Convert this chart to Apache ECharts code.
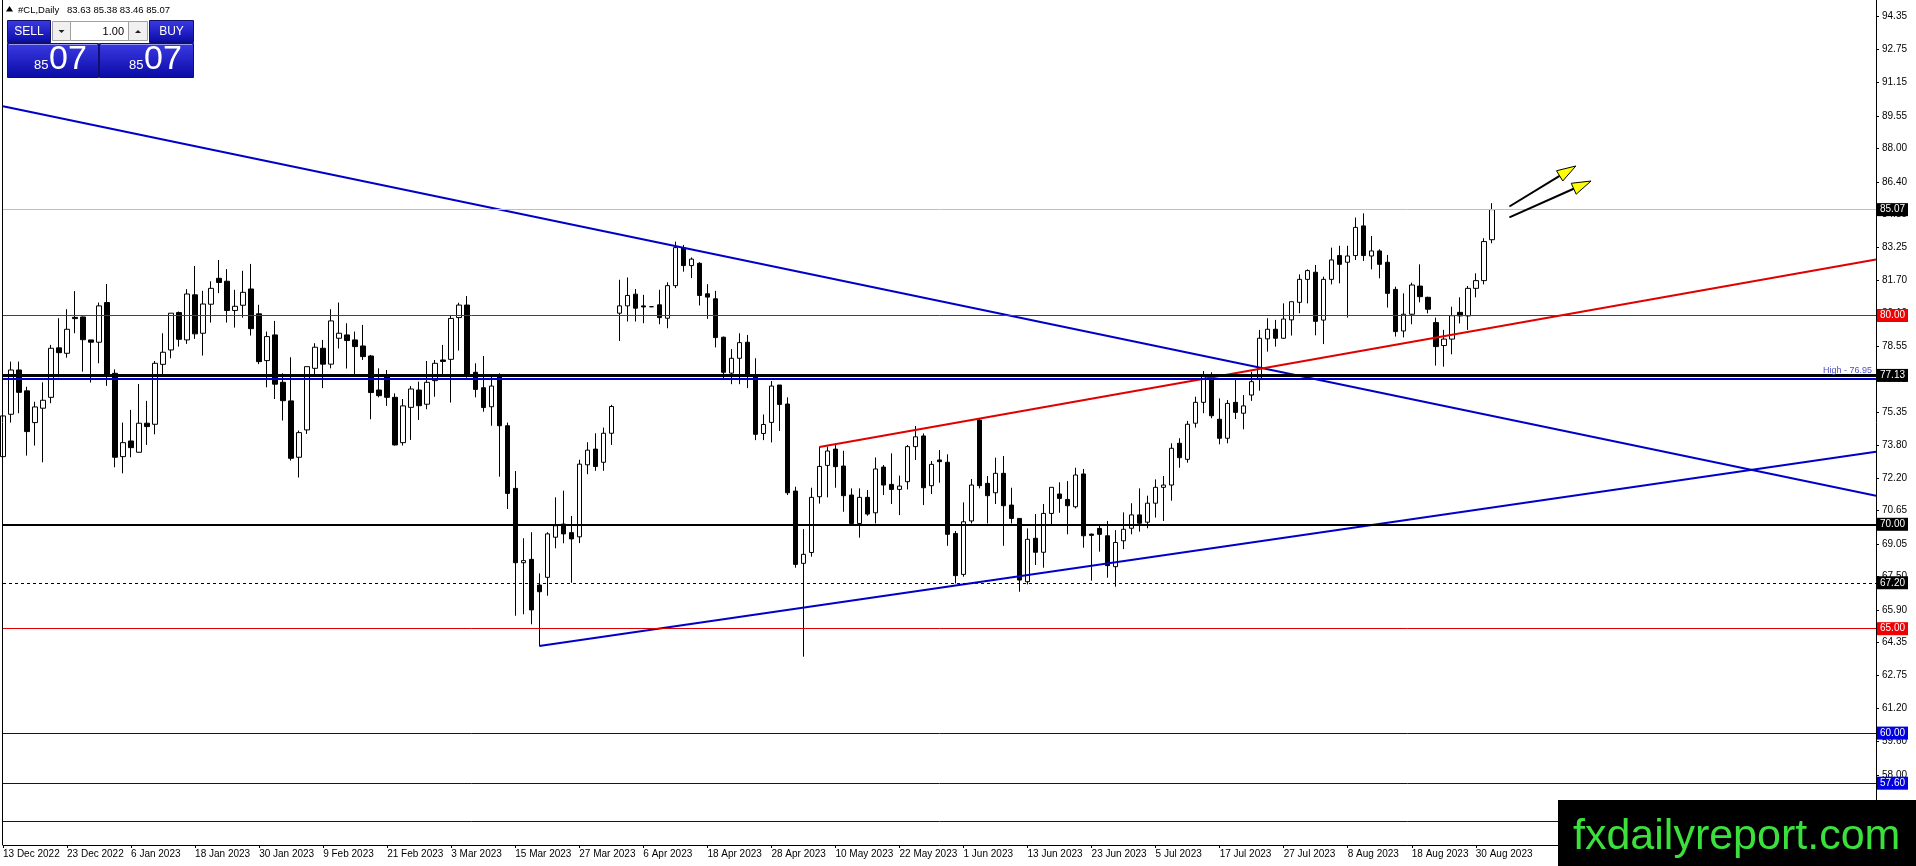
<!DOCTYPE html>
<html>
<head>
<meta charset="utf-8">
<title>#CL,Daily</title>
<script src="https://cdn.jsdelivr.net/npm/echarts@6/dist/echarts.min.js"></script>
<style>
  html, body { margin: 0; padding: 0; background: #fff; }
  #chart { width: 1916px; height: 866px; }
</style>
</head>
<body>
<div id="chart"></div>
<script>
// #CL daily bars, 13 Dec 2022 .. 1 Sep 2023
const opens = [
  73.24, 75.27, 77.39, 76.39, 74.87, 75.56, 76.08, 78.45, 78.19, 79.91,
  79.93, 78.83, 78.72, 80.62, 77.23, 73.24, 73.99, 73.45, 74.84, 74.79,
  77.66, 78.35, 80.14, 78.83, 80.99, 79.15, 80.54, 81.78, 81.64, 80.24,
  80.49, 81.27, 80.08, 77.84, 79.07, 76.80, 75.91, 73.21, 74.52, 77.47,
  78.43, 77.67, 78.91, 79.07, 78.83, 78.54, 78.06, 76.43, 77.12, 76.08,
  73.91, 75.60, 76.43, 75.75, 76.88, 77.87, 77.90, 79.90, 80.50, 77.28,
  76.54, 75.63, 77.15, 74.72, 71.72, 68.16, 68.32, 67.09, 67.46, 69.38,
  70.01, 69.60, 69.40, 72.85, 73.60, 72.97, 74.36, 80.11, 80.46, 81.02,
  80.46, 80.42, 80.51, 79.87, 81.43, 83.25, 82.39, 82.50, 81.04, 80.80,
  78.96, 77.24, 77.95, 78.72, 77.07, 74.35, 74.88, 76.67, 75.76, 71.59,
  68.13, 68.65, 71.32, 72.82, 73.60, 72.79, 71.40, 70.04, 71.29, 70.55,
  72.74, 71.91, 71.67, 72.04, 73.72, 74.23, 71.85, 73.08, 72.97, 69.56,
  67.60, 70.16, 74.99, 71.96, 71.51, 72.44, 70.92, 70.28, 67.25, 69.33,
  68.66, 70.52, 71.45, 71.19, 70.84, 72.41, 69.53, 69.80, 69.45, 67.97,
  69.21, 69.81, 70.45, 70.10, 71.01, 71.77, 71.88, 73.88, 73.11, 74.84,
  75.84, 77.07, 75.03, 74.12, 75.84, 75.32, 76.19, 76.99, 78.88, 79.34,
  78.91, 79.79, 80.63, 81.73, 82.07, 79.78, 81.73, 82.87, 82.55, 82.87,
  84.29, 82.85, 83.09, 82.55, 81.25, 79.26, 80.06, 81.41, 80.87, 79.66,
  78.56, 78.87, 80.15, 79.98, 81.30, 81.67, 83.63
];
const highs = [
  76.35, 77.79, 77.79, 76.59, 75.87, 76.80, 78.59, 79.87, 80.30, 81.17,
  79.95, 78.83, 80.62, 81.51, 77.42, 74.87, 75.48, 76.72, 75.91, 77.82,
  79.15, 80.11, 80.19, 81.26, 82.37, 81.18, 81.64, 82.66, 82.22, 81.23,
  82.14, 82.47, 80.51, 79.23, 79.74, 77.23, 78.00, 74.49, 77.55, 78.67,
  78.83, 80.30, 80.62, 79.63, 79.23, 79.55, 78.11, 77.47, 77.39, 76.27,
  76.00, 76.62, 76.83, 77.82, 77.87, 78.59, 80.02, 80.61, 80.93, 77.71,
  78.06, 77.07, 77.23, 74.87, 72.55, 69.33, 69.62, 67.65, 69.62, 71.29,
  71.61, 70.40, 73.09, 73.93, 74.36, 74.63, 75.72, 81.71, 81.82, 81.27,
  80.99, 80.42, 81.23, 81.59, 83.54, 83.38, 82.78, 82.55, 81.50, 81.18,
  78.99, 78.39, 79.15, 79.07, 77.95, 75.26, 76.86, 76.67, 76.08, 71.80,
  69.77, 71.75, 73.72, 73.72, 73.80, 73.52, 71.72, 71.72, 71.64, 73.20,
  72.84, 73.40, 72.33, 73.80, 74.71, 74.35, 73.03, 73.56, 73.35, 69.68,
  71.05, 72.17, 75.04, 72.31, 73.19, 73.27, 71.75, 70.28, 69.80, 70.49,
  70.97, 71.77, 72.01, 72.07, 72.71, 72.65, 69.55, 69.96, 70.16, 69.72,
  70.57, 71.01, 71.72, 71.37, 72.15, 72.31, 73.88, 74.12, 74.95, 76.11,
  77.34, 77.28, 76.03, 75.95, 76.91, 76.19, 77.31, 79.31, 79.87, 79.79,
  80.58, 80.66, 81.97, 82.21, 82.42, 81.86, 83.25, 83.34, 83.34, 84.69,
  84.89, 83.81, 83.17, 82.90, 81.38, 81.06, 81.57, 82.45, 80.90, 79.90,
  79.31, 80.42, 80.87, 81.41, 82.02, 83.70, 85.38
];
const lows = [
  73.20, 74.87, 75.32, 73.29, 73.77, 72.97, 75.80, 77.04, 77.98, 79.15,
  77.31, 76.79, 77.71, 76.63, 72.73, 72.44, 73.21, 73.43, 73.80, 74.31,
  77.07, 77.95, 78.51, 78.64, 78.88, 78.08, 79.66, 81.07, 79.66, 79.42,
  79.90, 79.04, 77.67, 76.56, 76.00, 74.97, 73.05, 72.24, 74.33, 77.07,
  76.52, 77.47, 78.42, 77.46, 77.15, 77.87, 75.03, 76.08, 75.67, 73.77,
  73.77, 74.04, 75.00, 75.51, 76.11, 77.20, 75.83, 78.32, 77.02, 76.08,
  75.39, 74.72, 72.28, 70.73, 65.62, 65.69, 65.21, 64.17, 66.58, 68.85,
  69.09, 67.20, 69.10, 72.40, 72.56, 72.56, 73.80, 78.78, 79.71, 79.71,
  79.63, 80.42, 79.58, 79.39, 81.31, 82.10, 81.79, 80.48, 79.84, 78.47,
  76.95, 76.71, 76.71, 76.52, 74.03, 74.03, 73.92, 74.47, 71.40, 67.92,
  63.66, 68.45, 70.99, 71.29, 71.75, 70.60, 69.92, 69.36, 70.41, 70.04,
  71.40, 70.97, 70.44, 71.67, 73.08, 70.92, 71.45, 71.99, 68.97, 67.17,
  67.49, 70.04, 71.72, 70.04, 70.97, 68.97, 70.04, 66.77, 67.12, 68.05,
  67.92, 69.93, 70.55, 69.52, 70.76, 68.88, 67.30, 68.69, 67.44, 67.01,
  68.81, 69.52, 69.65, 69.81, 70.32, 70.16, 71.13, 72.71, 72.95, 74.63,
  75.32, 75.08, 73.83, 73.88, 75.04, 74.55, 75.91, 76.40, 78.27, 78.51,
  78.88, 79.04, 80.11, 80.58, 79.05, 78.63, 81.49, 81.54, 79.90, 82.66,
  82.61, 82.21, 81.78, 80.38, 78.99, 78.95, 79.58, 80.63, 80.10, 77.60,
  77.55, 78.14, 79.62, 79.31, 80.87, 81.49, 83.46
];
const closes = [
  75.19, 77.39, 76.32, 74.44, 75.62, 75.94, 78.43, 78.22, 79.34, 79.85,
  78.84, 78.72, 80.46, 77.15, 73.21, 73.91, 73.67, 74.84, 74.68, 77.71,
  78.24, 80.11, 78.86, 81.03, 79.12, 80.55, 81.30, 81.58, 80.24, 80.44,
  81.11, 79.37, 77.79, 78.99, 76.71, 75.92, 73.16, 74.39, 77.55, 78.48,
  77.67, 79.74, 79.15, 78.80, 78.51, 78.03, 76.31, 76.16, 76.08, 73.80,
  75.67, 76.48, 75.68, 76.80, 77.71, 77.80, 79.86, 80.50, 77.10, 76.46,
  75.59, 76.62, 74.72, 71.48, 68.16, 68.26, 65.90, 66.77, 69.54, 69.93,
  69.54, 69.30, 72.88, 73.55, 72.77, 74.36, 75.64, 80.46, 80.96, 80.35,
  80.41, 80.42, 79.90, 81.43, 83.25, 82.39, 82.70, 80.96, 80.88, 78.94,
  77.28, 77.95, 78.70, 77.19, 74.31, 74.78, 76.62, 75.74, 71.51, 68.08,
  68.56, 71.29, 72.77, 73.51, 72.76, 71.37, 70.04, 71.29, 70.49, 72.65,
  71.88, 71.67, 71.83, 73.72, 74.19, 71.75, 72.87, 73.00, 69.52, 67.54,
  70.12, 71.88, 71.85, 71.37, 72.44, 70.89, 70.28, 67.33, 69.28, 68.66,
  70.52, 71.77, 71.24, 70.89, 72.36, 69.45, 69.47, 69.52, 68.02, 69.13,
  69.76, 70.45, 70.05, 71.01, 71.77, 71.88, 73.64, 73.19, 74.79, 75.84,
  77.15, 75.20, 74.12, 75.79, 75.36, 75.67, 76.83, 78.91, 79.34, 78.91,
  79.83, 80.66, 81.73, 82.15, 79.72, 81.73, 82.66, 82.45, 82.85, 84.22,
  82.87, 83.09, 82.45, 81.06, 79.23, 80.06, 81.46, 80.90, 80.30, 78.51,
  78.87, 79.99, 79.98, 81.30, 81.67, 83.54, 85.07
];

// time axis: 235 bar slots (187 with data, rest is empty space to the right)
const slotCount = 235;
const labelStep = 8;
const dateLabels = [
  '13 Dec 2022', '23 Dec 2022', '6 Jan 2023', '18 Jan 2023', '30 Jan 2023',
  '9 Feb 2023', '21 Feb 2023', '3 Mar 2023', '15 Mar 2023', '27 Mar 2023',
  '6 Apr 2023', '18 Apr 2023', '28 Apr 2023', '10 May 2023', '22 May 2023',
  '1 Jun 2023', '13 Jun 2023', '23 Jun 2023', '5 Jul 2023', '17 Jul 2023',
  '27 Jul 2023', '8 Aug 2023', '18 Aug 2023', '30 Aug 2023'
];
const priceTicks = [
  94.35, 92.75, 91.15, 89.55, 88.00, 86.40, 84.85, 83.25, 81.70, 80.10,
  78.55, 76.95, 75.35, 73.80, 72.20, 70.65, 69.05, 67.50, 65.90, 64.35,
  62.75, 61.20, 59.60, 58.00, 56.45, 54.85
];

// horizontal levels
const bidPrice = 85.07;
const redLevels = [80.00, 65.00];
const blackLevels = [77.13, 70.00];
const dashedLevels = [67.20];
const blueBoxLevels = [60.00, 57.60];
const blueLevels = [55.80];
const highLevel = 76.95;

// trend lines: [bar index, price]
const downTrend = [[0, 90.02], [234, 71.37]];
const upTrend = [[67, 64.17], [234, 73.47]];
const redTrend = [[102, 73.70], [234, 82.68]];

// yellow arrows: [tail, tip] as [bar index, price]
const arrows = [
  [[188.2, 85.22], [196.5, 87.16]],
  [[188.2, 84.70], [198.4, 86.44]]
];

const FONT = '"Liberation Sans", Arial, sans-serif';
const BLUE = '#0000c8';
const RED = '#e00000';

const slots = [];
for (let i = 0; i < slotCount; i++) slots.push(String(i));

const candles = opens.map((o, i) => [o, closes[i], lows[i], highs[i]]);

function level(value, color, width, type, box) {
  return {
    yAxis: value,
    lineStyle: { color: color, width: width, type: type },
    label: box ? {
      show: true, position: 'end', distance: 1,
      formatter: value.toFixed(2),
      color: '#fff', backgroundColor: box,
      padding: [2, 3, 1, 3], fontSize: 10, fontFamily: FONT
    } : { show: false }
  };
}

const levelData = [level(bidPrice, '#c0c0c0', 1, 'solid', '#000')];
redLevels.forEach(v => levelData.push(level(v, RED, 1, 'solid', '#f00000')));
levelData.push(level(blackLevels[0], '#000', 3, 'solid', '#000'));
levelData.push(level(blackLevels[1], '#000', 2, 'solid', '#000'));
dashedLevels.forEach(v => levelData.push(level(v, '#000', 1, [3, 3], '#000')));
blueBoxLevels.forEach(v => levelData.push(level(v, BLUE, 1, 'solid', '#0000e0')));
blueLevels.forEach(v => levelData.push(level(v, BLUE, 1, 'solid', null)));
levelData.push({
  yAxis: highLevel,
  lineStyle: { color: BLUE, width: 2, type: 'solid' },
  label: {
    show: true, position: 'insideEndTop', distance: 4,
    formatter: 'High - ' + highLevel.toFixed(2),
    color: '#5050c8', fontSize: 9, fontFamily: FONT
  }
});

function showDate(index) {
  return index % labelStep === 0 && index / labelStep < dateLabels.length;
}

function trend(name, data, color) {
  return {
    name: name, type: 'line', data: data, z: 4,
    symbol: 'none', silent: true, animation: false,
    lineStyle: { color: color, width: 2 }
  };
}

const chart = echarts.init(document.getElementById('chart'), null, { renderer: 'canvas' });

chart.setOption({
  animation: false,
  backgroundColor: '#fff',
  grid: { left: 3, right: 40, top: 0, bottom: 21 },
  xAxis: {
    type: 'category', data: slots, boundaryGap: false,
    axisLine: { lineStyle: { color: '#000', width: 1 } },
    axisTick: { show: true, interval: showDate, length: 3, lineStyle: { color: '#000' } },
    axisLabel: {
      interval: showDate, align: 'left', margin: 4,
      formatter: (v, i) => dateLabels[i / labelStep],
      color: '#000', fontSize: 10, fontFamily: FONT
    },
    splitLine: { show: false }
  },
  yAxis: {
    type: 'value', position: 'right', min: 54.64, max: 95.11,
    axisLine: { show: true, lineStyle: { color: '#000', width: 1 } },
    axisTick: { show: true, length: 3, customValues: priceTicks, lineStyle: { color: '#000' } },
    axisLabel: {
      customValues: priceTicks, margin: 6,
      formatter: v => v.toFixed(2),
      color: '#000', fontSize: 10, fontFamily: FONT
    },
    splitLine: { show: false }
  },
  series: [
    {
      name: '#CL,Daily', type: 'candlestick', data: candles,
      barWidth: 5, clip: false, z: 2,
      itemStyle: {
        color: '#fff', color0: '#000',
        borderColor: '#000', borderColor0: '#000', borderColorDoji: '#000',
        borderWidth: 1
      },
      markLine: {
        silent: true, symbol: 'none', animation: false, z: 5,
        data: levelData
      }
    },
    trend('down trend', downTrend, BLUE),
    trend('up trend', upTrend, BLUE),
    trend('channel', redTrend, RED)
  ]
});

// pixel position of a (fractional) bar index and price
function toPixel(idx, price) {
  const a = chart.convertToPixel({ gridIndex: 0 }, [0, price]);
  const b = chart.convertToPixel({ gridIndex: 0 }, [1, price]);
  return [a[0] + idx * (b[0] - a[0]), a[1]];
}

const graphics = [];

// left frame line
graphics.push({
  type: 'line', z: 50, silent: true,
  shape: { x1: 2.5, y1: 0, x2: 2.5, y2: 845 },
  style: { stroke: '#000', lineWidth: 1 }
});

// arrows
arrows.forEach(([tail, tip]) => {
  const p0 = toPixel(tail[0], tail[1]);
  const p1 = toPixel(tip[0], tip[1]);
  const dx = p1[0] - p0[0], dy = p1[1] - p0[1];
  const len = Math.sqrt(dx * dx + dy * dy);
  const ux = dx / len, uy = dy / len;
  const headLen = 19, headHalf = 6;
  const base = [p1[0] - ux * headLen, p1[1] - uy * headLen];
  graphics.push({
    type: 'line', z: 60, silent: true,
    shape: { x1: p0[0], y1: p0[1], x2: base[0], y2: base[1] },
    style: { stroke: '#000', lineWidth: 2 }
  });
  graphics.push({
    type: 'polygon', z: 61, silent: true,
    shape: { points: [p1, [base[0] - uy * headHalf, base[1] + ux * headHalf], [base[0] + uy * headHalf, base[1] - ux * headHalf]] },
    style: { fill: '#ffff00', stroke: '#000', lineWidth: 1 }
  });
});

// header line
const last = opens.length - 1;
graphics.push({
  type: 'polygon', z: 100, silent: true,
  shape: { points: [[9.5, 6], [13, 11.5], [6, 11.5]] },
  style: { fill: '#000' }
});
graphics.push({
  type: 'text', z: 100, silent: true,
  style: { text: '#CL,Daily', x: 18, y: 10, fill: '#000', font: '9.5px ' + FONT, textVerticalAlign: 'middle' }
});
graphics.push({
  type: 'text', z: 100, silent: true,
  style: {
    text: [opens[last], highs[last], lows[last], closes[last]].map(v => v.toFixed(2)).join(' '),
    x: 67, y: 10, fill: '#000', font: '9.5px ' + FONT, textVerticalAlign: 'middle'
  }
});

// one click trading panel
const panelFill = new echarts.graphic.LinearGradient(0, 0, 0, 1, [
  { offset: 0, color: '#3b3be4' }, { offset: 1, color: '#0a0aa6' }
]);
function box(x, y, w, h, fill, stroke) {
  graphics.push({
    type: 'rect', z: 100, silent: true,
    shape: { x: x, y: y, width: w, height: h },
    style: { fill: fill, stroke: stroke, lineWidth: 1 }
  });
}
function label(text, x, y, size, align, color) {
  graphics.push({
    type: 'text', z: 101, silent: true,
    style: { text: text, x: x, y: y, fill: color, font: size + 'px ' + FONT, textAlign: align, textVerticalAlign: 'middle' }
  });
}
const bidParts = closes[last].toFixed(2).split('.');

box(7.5, 20.5, 43, 22, panelFill, '#10106a');
label('SELL', 29, 31.5, 12, 'center', '#fff');
box(149.5, 20.5, 44, 22, panelFill, '#10106a');
label('BUY', 171.5, 31.5, 12, 'center', '#fff');

box(52.5, 21.5, 18, 19, '#f0f0f0', '#a0a0a0');
graphics.push({ type: 'polygon', z: 101, silent: true, shape: { points: [[58.5, 30], [64.5, 30], [61.5, 33]] }, style: { fill: '#202020' } });
box(70.5, 21.5, 58, 19, '#fff', '#a0a0a0');
label('1.00', 124, 31.5, 11, 'right', '#000');
box(128.5, 21.5, 19, 19, '#f0f0f0', '#a0a0a0');
graphics.push({ type: 'polygon', z: 101, silent: true, shape: { points: [[135, 33], [141, 33], [138, 30]] }, style: { fill: '#202020' } });

box(7.5, 43.5, 91, 34, panelFill, '#10106a');
box(99.5, 43.5, 94, 34, panelFill, '#10106a');
graphics.push({ type: 'line', z: 101, silent: true, shape: { x1: 9, y1: 44.5, x2: 97, y2: 44.5 }, style: { stroke: '#9a9af0', lineWidth: 1 } });
graphics.push({ type: 'line', z: 101, silent: true, shape: { x1: 101, y1: 44.5, x2: 192, y2: 44.5 }, style: { stroke: '#9a9af0', lineWidth: 1 } });
label(bidParts[0], 34, 65.5, 13, 'left', '#fff');
label(bidParts[1], 49, 59.5, 34, 'left', '#fff');
label(bidParts[0], 129, 65.5, 13, 'left', '#fff');
label(bidParts[1], 144, 59.5, 34, 'left', '#fff');

// watermark
graphics.push({
  type: 'rect', z: 200, silent: true,
  shape: { x: 1558, y: 800, width: 358, height: 66 },
  style: { fill: '#000' }
});
graphics.push({
  type: 'text', z: 201, silent: true,
  style: { text: 'fxdailyreport.com', x: 1573, y: 837, fill: '#3ce03c', font: '43px ' + FONT, textVerticalAlign: 'middle' }
});

chart.setOption({ graphic: { elements: graphics } });
</script>
</body>
</html>
